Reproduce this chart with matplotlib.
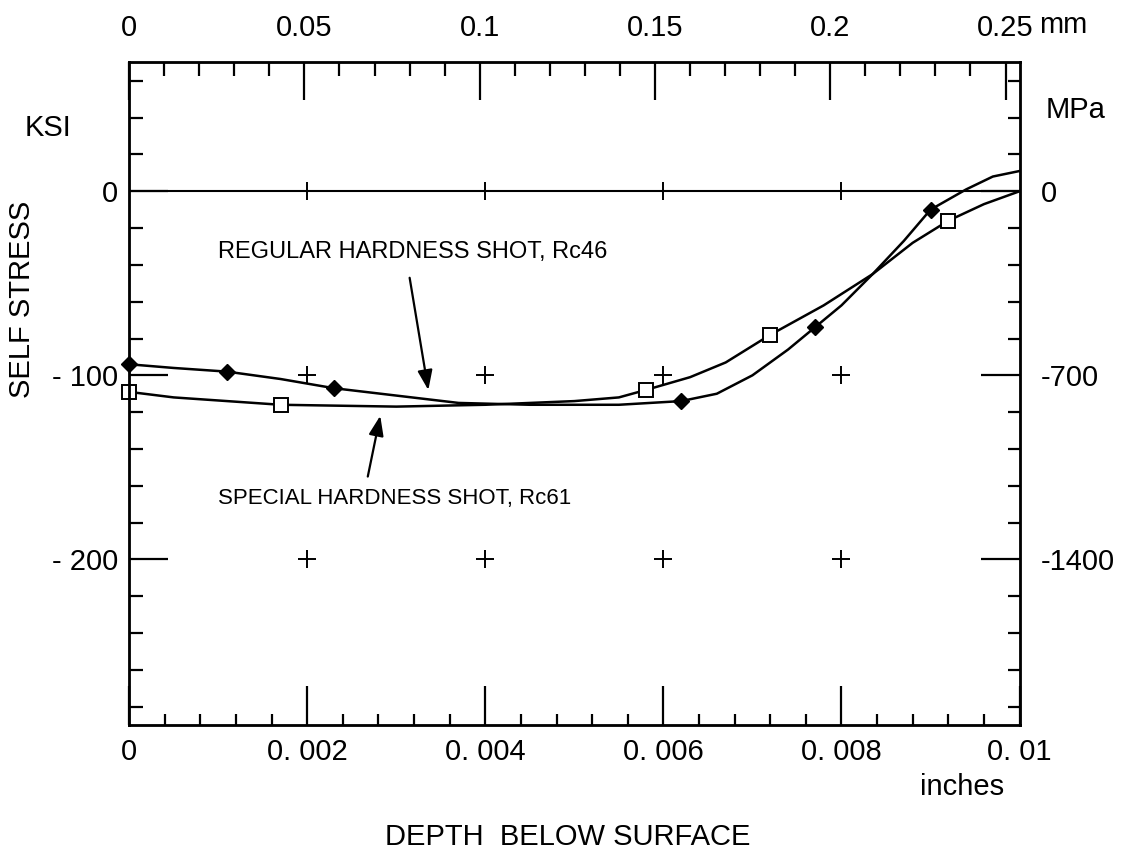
import matplotlib.pyplot as plt
from matplotlib.ticker import MultipleLocator

# regular hardness shot, Rc46 (depth in inches, stress in KSI)
reg_x = [0, 0.0005, 0.0011, 0.0017, 0.0023, 0.003, 0.0037, 0.0045, 0.0055, 0.0062,
         0.0066, 0.007, 0.0074, 0.0077, 0.008, 0.00835, 0.0087, 0.009, 0.0094, 0.0097, 0.01]
reg_y = [-94, -96, -98, -102, -107, -111, -115, -116, -116, -114,
         -110, -100, -86, -74, -62, -45, -27, -10, 1, 8, 11]
reg_mx = [0, 0.0011, 0.0023, 0.0062, 0.0077, 0.0090]
reg_my = [-94, -98, -107, -114, -74, -10]

# special hardness shot, Rc61
spe_x = [0, 0.0005, 0.0011, 0.0017, 0.003, 0.004, 0.005, 0.0055, 0.0058, 0.0063,
         0.0067, 0.0072, 0.0078, 0.00835, 0.0088, 0.0092, 0.0096, 0.01]
spe_y = [-109, -112, -114, -116, -117, -116, -114, -112, -108, -101,
         -93, -78, -62, -45, -28, -16, -7, 0]
spe_mx = [0, 0.0017, 0.0058, 0.0072, 0.0092]
spe_my = [-109, -116, -108, -78, -16]

cross_x = [0.002, 0.004, 0.006, 0.008]
cross_y = [0, -100, -200]

bot_ticks = [0, 0.002, 0.004, 0.006, 0.008, 0.01]
bot_labels = ['0', '0. 002', '0. 004', '0. 006', '0. 008', '0. 01']
left_ticks = [0, -100, -200]
left_labels = ['0', '- 100', '- 200']
top_ticks = [0, 0.05, 0.1, 0.15, 0.2, 0.25]
top_labels = ['0', '0.05', '0.1', '0.15', '0.2', '0.25']
right_ticks = [0, -700, -1400]
right_labels = ['0', '-700', '-1400']

plt.rcParams['font.family'] = ['Liberation Sans', 'DejaVu Sans']
FS = 21

fig = plt.figure(figsize=(11.43, 8.55), dpi=100)
ax = fig.add_axes([0.113, 0.152, 0.779, 0.775])
ax.set_xlim(0, 0.01)
ax.set_ylim(-290, 70)

ax.axhline(0, color='black', lw=1.5, zorder=1)
ax.plot(reg_x, reg_y, color='black', lw=1.8)
ax.plot(spe_x, spe_y, color='black', lw=1.8)
ax.plot(reg_mx, reg_my, 'D', color='black', ms=8, clip_on=False)
ax.plot(spe_mx, spe_my, 's', color='black', mfc='white', mew=1.4, ms=10, clip_on=False)
for cy in cross_y:
    ax.plot(cross_x, [cy] * len(cross_x), '+', color='black', ms=13, mew=1.4)

arrow = dict(arrowstyle='-|>,head_length=1.2,head_width=0.45', color='black', lw=1.6,
             shrinkA=0, shrinkB=0)
ax.text(0.001, -33, 'REGULAR HARDNESS SHOT, Rc46', fontsize=17, ha='left', va='center')
ax.annotate('', xy=(0.00336, -108), xytext=(0.00315, -47), arrowprops=arrow)
ax.text(0.001, -167, 'SPECIAL HARDNESS SHOT, Rc61', fontsize=16, ha='left', va='center')
ax.annotate('', xy=(0.00282, -122), xytext=(0.00268, -155), arrowprops=arrow)

for s in ax.spines.values():
    s.set_linewidth(2)

ax.set_xticks(bot_ticks, bot_labels)
ax.set_yticks(left_ticks, left_labels)
ax.xaxis.set_minor_locator(MultipleLocator(0.0004))
ax.yaxis.set_minor_locator(MultipleLocator(20))
ax.tick_params(direction='in', labelsize=FS, width=1.6)
ax.tick_params(axis='x', which='major', length=28, pad=9)
ax.tick_params(axis='x', which='minor', length=8, width=1.6, direction='in')
ax.tick_params(axis='y', which='major', length=28, pad=8)
ax.tick_params(axis='y', which='minor', length=10, width=1.6, direction='in')

axr = ax.twinx()
axr.set_ylim(-290 * 7, 70 * 7)
axr.set_yticks(right_ticks, right_labels)
axr.yaxis.set_minor_locator(MultipleLocator(140))
axr.tick_params(direction='in', labelsize=FS, width=1.6)
axr.tick_params(axis='y', which='major', length=28, pad=15)
axr.tick_params(axis='y', which='minor', length=9, width=1.6, direction='in')

axt = ax.twiny()
axt.set_xlim(0, 0.254)
axt.set_xticks(top_ticks, top_labels)
axt.xaxis.set_minor_locator(MultipleLocator(0.01))
axt.tick_params(direction='in', labelsize=FS, width=1.6)
axt.tick_params(axis='x', which='major', length=27, pad=15)
axt.tick_params(axis='x', which='minor', length=10, width=1.6, direction='in')

fig.text(0.042, 0.850, 'KSI', fontsize=FS, ha='center', va='center')
fig.text(0.941, 0.871, 'MPa', fontsize=FS, ha='center', va='center')
fig.text(0.930, 0.971, 'mm', fontsize=FS, ha='center', va='center')
fig.text(0.019, 0.65, 'SELF STRESS', fontsize=FS, rotation=90, ha='center', va='center')
fig.text(0.842, 0.080, 'inches', fontsize=FS, ha='center', va='center')
fig.text(0.497, 0.021, 'DEPTH  BELOW SURFACE', fontsize=FS, ha='center', va='center')

fig.savefig('out.png', dpi=100)
